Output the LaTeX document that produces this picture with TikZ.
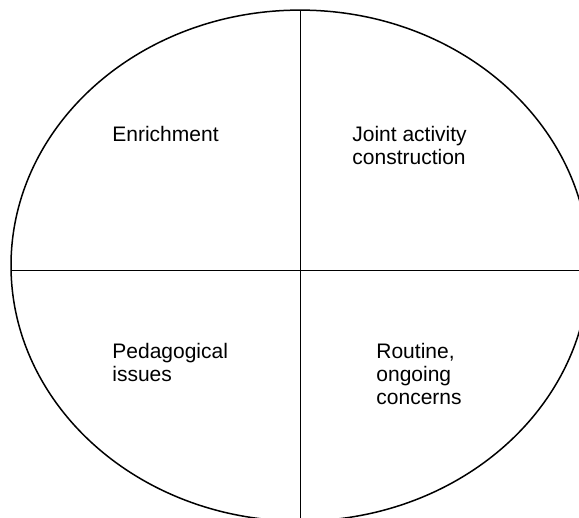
\documentclass[tikz,border=0pt]{standalone}
\usepackage{fontspec}
\setmainfont{Liberation Sans}
\usepackage{tikz}

\begin{document}
\begin{tikzpicture}[x=0.5pt,y=-0.5pt]
        \tikzset{label/.style = {anchor=base west,inner sep=0pt,align=left,font=\fontsize{10.5pt}{11.5pt}\selectfont}}
        \tikzset{divider/.style = {draw,line width=0.5pt}}
        \clip (0,0) rectangle (579,518);
        % outline
        \draw[line width=0.75pt] (300,265.6) ellipse [x radius=289, y radius=255.5];
        \coordinate (top) at (300,10.1);
        \coordinate (bottom) at (300,520);
        \coordinate (left) at (11.1,271);
        \coordinate (right) at (581,271);
        % quadrants
        \node[label] (enrich) at (112,142) {Enrichment};
        \node[label] (joint) at (352,165) {Joint activity\\construction};
        \node[label] (pedag) at (112,382) {Pedagogical\\issues};
        \node[label] (routine) at (376,405) {Routine,\\ongoing\\concerns};
        %dividers
        \draw[divider] (top) to (bottom);
        \draw[divider] (left) to (right);

    \end{tikzpicture}
\end{document}
